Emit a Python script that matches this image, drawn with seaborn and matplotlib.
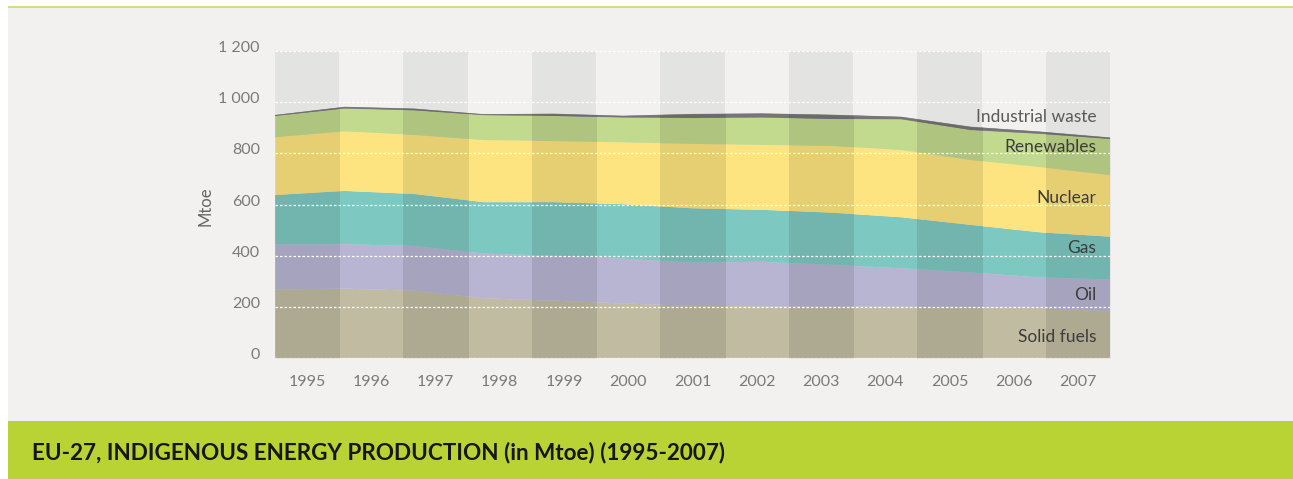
import numpy as np
import pandas as pd
import matplotlib
matplotlib.use("Agg")
import matplotlib.pyplot as plt
import matplotlib.transforms as mtransforms
from matplotlib.patches import Rectangle
import seaborn as sns
import seaborn.objects as so

# ---------------- data (Mtoe) ----------------
years = [1995, 1996, 1997, 1998, 1999, 2000, 2001, 2002, 2003, 2004, 2005, 2006, 2007]
solid_fuels = [268, 271, 263, 233, 224, 213, 204, 202, 201, 200, 198, 195, 182]
oil = [176, 174, 175, 175, 176, 175, 169, 174, 163, 151, 136, 120, 125]
gas = [193, 208, 203, 201, 209, 213, 212, 203, 204, 199, 186, 176, 167]
nuclear = [226, 233, 231, 243, 239, 242, 252, 254, 261, 263, 254, 255, 241]
renewables = [83, 89, 96, 97, 98, 97, 101, 107, 105, 120, 117, 130, 141]
industrial_waste = [4, 7, 7, 4, 9, 7, 16, 16, 17, 10, 13, 9, 6]

sources = ["Solid fuels", "Oil", "Gas", "Nuclear", "Renewables", "Industrial waste"]
series = [solid_fuels, oil, gas, nuclear, renewables, industrial_waste]
y_ticks = [0, 200, 400, 600, 800, 1000, 1200]
y_tick_labels = ["0", "200", "400", "600", "800", "1 000", "1 200"]
title = "EU-27, INDIGENOUS ENERGY PRODUCTION (in Mtoe) (1995-2007)"

# ---------------- styles ----------------
colors = ["#c1bba1", "#b8b5d3", "#7ec8c2", "#fee480", "#c2da8d", "#767676"]
label_y = [61, 227, 409, 607, 804, 924]          # baseline positions of right-side labels
label_colors = ["#3c3c3c"] * 5 + ["#5a5a5a"]

sns.set_theme(style="white")
plt.rcParams["font.family"] = ["Lato", "DejaVu Sans"]

W, H = 1293, 479
fig = plt.figure(figsize=(W / 100, H / 100), dpi=100, facecolor="white")

# page background elements
fig.add_artist(Rectangle((8 / W, 1 - 421 / H), 1 - 8 / W, (421 - 8) / H,
                         transform=fig.transFigure, facecolor="#f2f1ef", lw=0, zorder=-3))
fig.add_artist(Rectangle((8 / W, 1 - 8 / H), 1 - 8 / W, 2.2 / H,
                         transform=fig.transFigure, facecolor="#cfe07c", lw=0, zorder=-2))
fig.add_artist(Rectangle((8 / W, 0), 1 - 8 / W, (479 - 421) / H,
                         transform=fig.transFigure, facecolor="#b9d234", lw=0, zorder=-2))
fig.text(32 / W, 1 - 453 / H, title, fontsize=16.2, fontweight="bold",
         family=["Lato", "DejaVu Sans"], color="#161616",
         ha="left", va="center")

# band axis (year columns, ticks) and area axis (twin, on top)
ax_b = fig.add_axes([275 / W, 1 - 358 / H, 835 / W, 307 / H])
ax_b.set_facecolor("none")
ax_b.set_xlim(years[0] - 0.5, years[-1] + 0.5)
for yr in years[::2]:
    ax_b.axvspan(yr - 0.5, yr + 0.5, color="#e3e3e1", lw=0, zorder=0)

ax_a = ax_b.twiny()

df = pd.concat([pd.DataFrame({"year": years, "mtoe": vals, "source": name})
                for name, vals in zip(sources, series)], ignore_index=True)
(
    so.Plot(df, x="year", y="mtoe", color="source")
    .add(so.Area(alpha=1, edgewidth=0.4), so.Stack(), legend=False)
    .scale(color=so.Nominal(dict(zip(sources, colors)), order=sources))
    .on(ax_a)
    .plot()
)

total = np.sum(np.array(series), axis=0)
ax_a.set_xlim(years[0], years[-1])
ax_a.set_ylim(0, 1200)
ax_b.set_ylim(0, 1200)

# darker overlay of alternate year columns over the areas
for yr in years[::2]:
    clip = Rectangle((yr - 0.5, 0), 1, 1200, transform=ax_b.transData)
    f = ax_a.fill_between(years, 0, total, color="black", alpha=0.095, lw=0, zorder=5)
    f.set_clip_path(clip)

# dashed white gridlines on top
for v in y_ticks:
    ax_a.axhline(v, color="white", lw=0.9, ls=(0, (2, 1.6)), zorder=6)

# right-side labels
for name, yv, c in zip(sources, label_y, label_colors):
    ax_a.text(0.9838, yv, name, transform=ax_a.get_yaxis_transform(),
              ha="right", va="baseline", fontsize=12.5, color=c, zorder=7)

# axes cosmetics
for ax in (ax_a, ax_b):
    ax.grid(False)
    for s in ax.spines.values():
        s.set_visible(False)
ax_a.xaxis.set_visible(False)
ax_a.set_xlabel("")
ax_a.set_ylabel("")

ax_b.set_xticks(years, [str(y) for y in years])
ax_b.set_yticks(y_ticks, y_tick_labels)
ax_b.tick_params(axis="x", length=0, pad=12.6, labelsize=11.5, labelcolor="#7a7a7a",
                 labelfontfamily="Lato")
ax_b.tick_params(axis="y", length=0, pad=10.8, labelsize=11.5, labelcolor="#7a7a7a",
                 labelfontfamily="Lato")
ax_b.set_ylabel("Mtoe", fontsize=12, color="#666666")
ax_b.yaxis.set_label_coords(-0.074, 0.495)
ax_b.set_xlabel("")

offset = mtransforms.ScaledTranslation(0, 4.5 / 100, fig.dpi_scale_trans)
for lab in ax_b.get_yticklabels():
    lab.set_transform(lab.get_transform() + offset)

fig.savefig("out.png", dpi=100, facecolor="white")
